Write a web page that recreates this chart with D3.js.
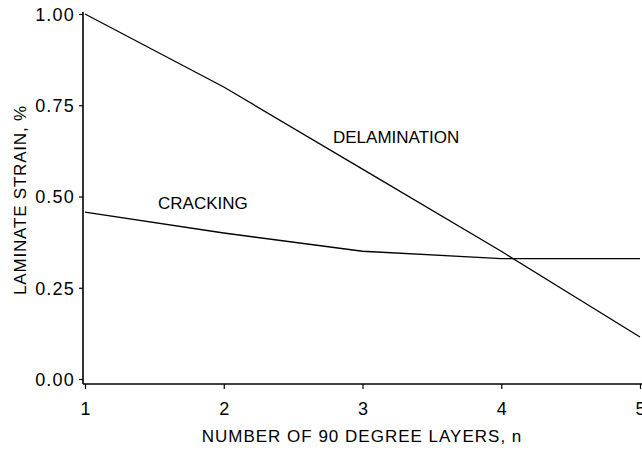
<!DOCTYPE html>
<html><head><meta charset="utf-8">
<script src="https://cdn.jsdelivr.net/npm/d3@7"></script>
<style>
body{margin:0;background:#fff;}
text{font-family:"Liberation Sans",Arial,sans-serif;fill:#000;}
</style></head>
<body><svg id="c" width="642" height="451"></svg>
<script>
const layers = [1, 2, 3, 4, 5];
const delamination = [1.00, 0.80, 0.575, 0.35, 0.115];
const cracking = [0.457, 0.40, 0.35, 0.33, 0.33];
const xTicks = [1, 2, 3, 4, 5];
const yTicks = [0, 0.25, 0.5, 0.75, 1.0];
const yTickLabels = ["0.00", "0.25", "0.50", "0.75", "1.00"];

const svg = d3.select("#c");
const x = d3.scaleLinear().domain([1, 5]).range([85, 640]);
const y = d3.scaleLinear().domain([0, 1]).range([379, 14]);
const axisY = 384, axisX = 83;

// y axis
const ga = svg.append("g").attr("transform", `translate(${axisX},0)`)
  .call(d3.axisLeft(y).tickValues(yTicks).tickFormat((d, i) => yTickLabels[i]).tickSize(4).tickPadding(4));
ga.select(".domain").remove();
ga.selectAll("text").style("font-size", "18px").style("letter-spacing", "1.2px").attr("dy", "0.36em");
ga.selectAll("line").attr("stroke-width", 1.2);
svg.append("line").attr("x1", axisX).attr("x2", axisX).attr("y1", y(1) - 2).attr("y2", axisY)
  .attr("stroke", "#000").attr("stroke-width", 1.6);

// x axis
const gx = svg.append("g").attr("transform", `translate(0,${axisY})`)
  .call(d3.axisBottom(x).tickValues(xTicks).tickFormat(d3.format("d")).tickSize(5).tickPadding(13));
gx.select(".domain").remove();
gx.selectAll("text").style("font-size", "18px");
gx.selectAll("line").attr("stroke-width", 1.2);
svg.append("line").attr("x1", axisX).attr("x2", 642).attr("y1", axisY).attr("y2", axisY)
  .attr("stroke", "#000").attr("stroke-width", 1.6);

const line = d3.line().x((d, i) => x(layers[i])).y(d => y(d));
[delamination, cracking].forEach(s => {
  svg.append("path").attr("d", line(s)).attr("fill", "none").attr("stroke", "#000").attr("stroke-width", 1.3);
});

svg.append("text").attr("x", 333).attr("y", 143).style("font-size", "17px").text("DELAMINATION");
svg.append("text").attr("x", 158).attr("y", 209).style("font-size", "17px").text("CRACKING");

svg.append("text").attr("x", 362).attr("y", 442).attr("text-anchor", "middle")
  .style("font-size", "17px").style("letter-spacing", "1px").text("NUMBER OF 90 DEGREE LAYERS, n");
svg.append("text").attr("transform", "translate(26,200) rotate(-90)").attr("text-anchor", "middle")
  .style("font-size", "17px").style("letter-spacing", "0.8px").text("LAMINATE STRAIN, %");
</script></body></html>
